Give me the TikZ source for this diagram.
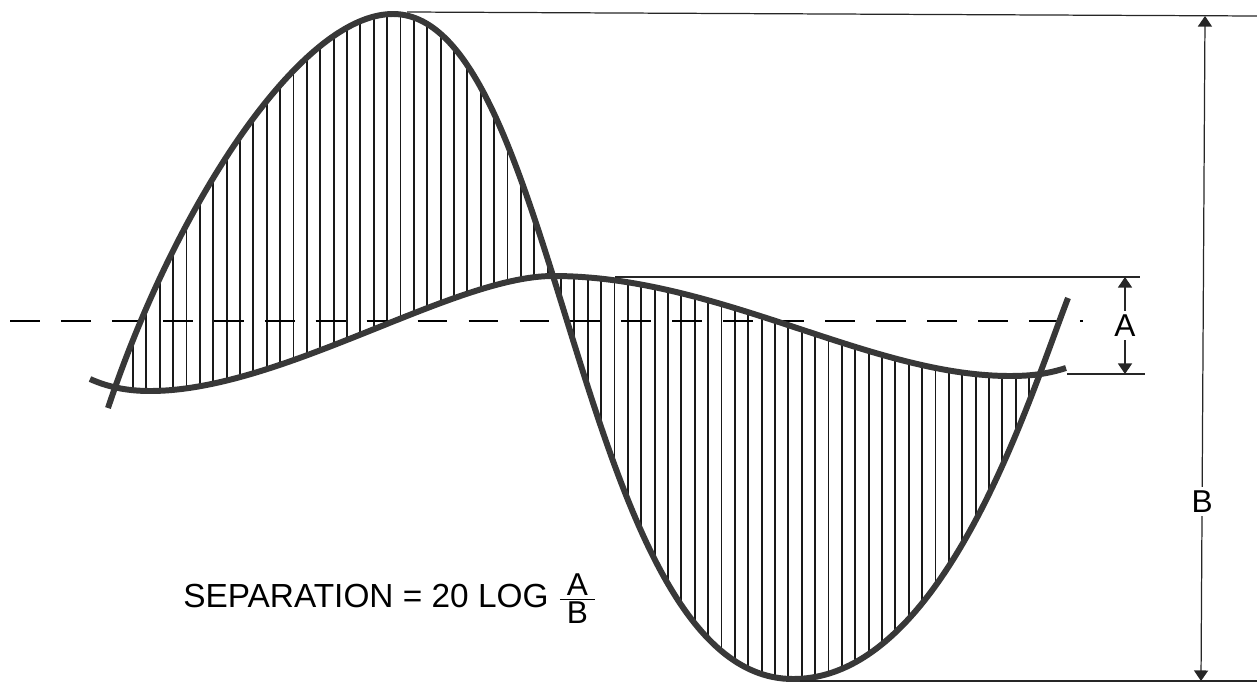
\documentclass[tikz,border=0pt]{standalone}
\usepackage{amsmath}
\usepackage{fontspec}
\setmainfont{Liberation Sans}
\usetikzlibrary{arrows.meta}

\tikzset{
  wave/.style={line width=3.4pt, draw=black!78},
  hatch/.style={line width=1.1pt, draw=black!90},
  dimline/.style={line width=0.7pt, draw=black!85},
  dimarrow/.style={dimline, {Triangle[width=8pt,length=6pt]}-{Triangle[width=8pt,length=6pt]}},
  letter/.style={font=\fontsize{18}{20}\selectfont, fill=white, inner sep=2pt},
}

% the two traces, in pixels of the sketch
\def\bigwave{(108,408) .. controls (175,207) and (300,14) .. (393,14)
  .. controls (561,14) and (577,679) .. (793,679)
  .. controls (943,679) and (1028,402) .. (1068,298)}
\def\smallback{(1066,368) .. controls (1050,373) and (1035,376) .. (1010,376)
  .. controls (869,376) and (719,276) .. (553,276)
  .. controls (453,276) and (281,391) .. (150,391)
  .. controls (130,391) and (110,388) .. (90,379)}

\begin{document}
\begin{tikzpicture}[x=0.02cm, y=-0.02cm]
  \useasboundingbox (0,0) rectangle (1257,683);

  % hatching between the traces
  \begin{scope}
    \clip \bigwave -- \smallback -- cycle;
    \foreach \i in {0,...,68}
      \draw[hatch] ({133+13.375*\i}, 0) -- ({133+13.375*\i}, 683);
  \end{scope}

  % zero line
  \coordinate (zeroL) at (10,321);
  \coordinate (zeroR) at (1083,321);
  \draw[line width=1.1pt, dash pattern=on 17pt off 12pt] (zeroL) -- (zeroR);

  \draw[wave] \smallback;
  \draw[wave] \bigwave;

  % extension lines
  \coordinate (peak) at (407,12);
  \coordinate (peakR) at (1257,16);
  \coordinate (trough) at (800,681);
  \coordinate (troughR) at (1257,681);
  \coordinate (hump) at (615,277);
  \coordinate (humpR) at (1140,277);
  \coordinate (dip) at (1067,374);
  \coordinate (dipR) at (1145,374);
  \draw[dimline] (peak) -- (peakR);
  \draw[dimline] (trough) -- (troughR);
  \draw[dimline] (hump) -- (humpR);
  \draw[dimline] (dip) -- (dipR);

  % dimensions
  \coordinate (Ahi) at (1125,277);
  \coordinate (Alo) at (1125,374);
  \coordinate (Bhi) at (1205,16);
  \coordinate (Blo) at (1201,681);
  \draw[dimarrow] (Ahi) -- node[letter] (Alab) {A} (Alo);
  \draw[dimarrow] (Bhi) -- node[letter, pos=0.73] (Blab) {B} (Blo);

  \node[anchor=base west, inner sep=0, font=\fontsize{19}{21}\selectfont] (sep) at (183,607)
    {SEPARATION = 20 LOG $\genfrac{}{}{1pt}{}{\makebox[20pt]{\fontsize{18}{18}\selectfont A}}{\makebox[20pt]{\fontsize{18}{18}\selectfont B}}$};
\end{tikzpicture}
\end{document}
